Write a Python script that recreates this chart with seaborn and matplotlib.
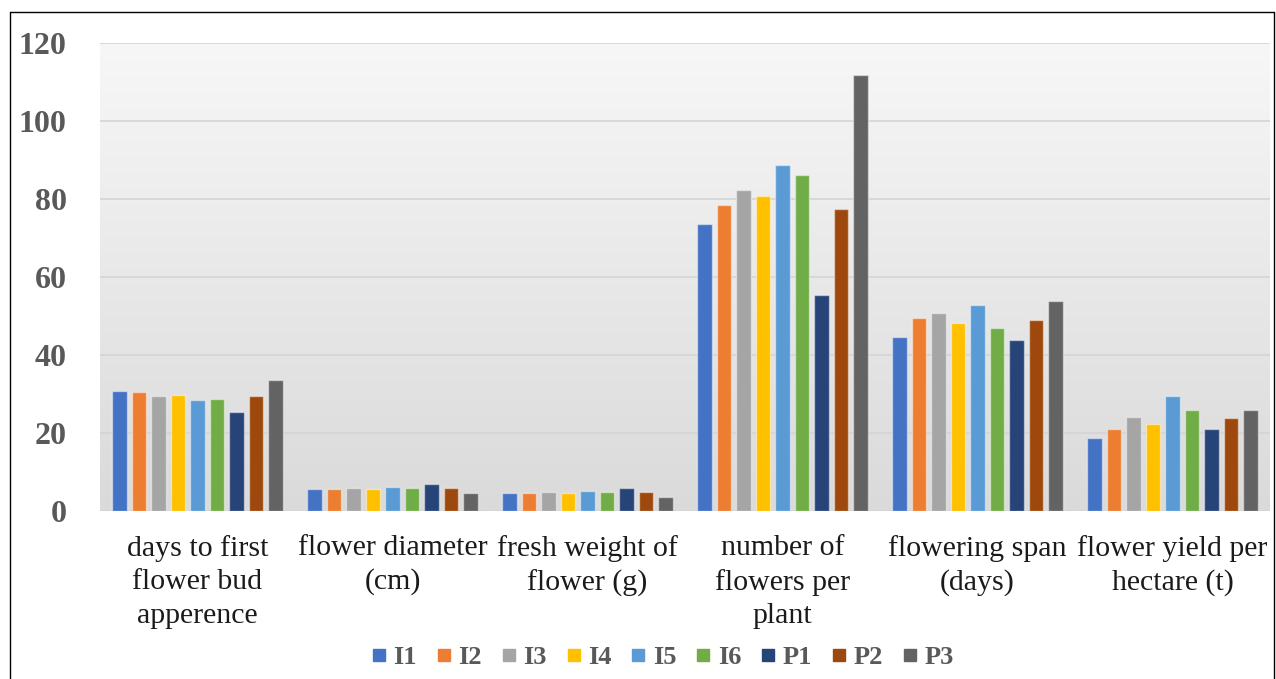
import numpy as np
import pandas as pd
import matplotlib
matplotlib.use("Agg")
import matplotlib.pyplot as plt
from matplotlib.colors import LinearSegmentedColormap
from matplotlib.lines import Line2D
import seaborn as sns

categories = ["days to first\nflower bud\napperence", "flower diameter\n(cm)",
              "fresh weight of\nflower (g)", "number of\nflowers per\nplant",
              "flowering span\n(days)", "flower yield per\nhectare (t)"]
series_names = ["I1", "I2", "I3", "I4", "I5", "I6", "P1", "P2", "P3"]

I1 = [30.8, 5.6, 4.6, 73.5, 44.7, 18.8]
I2 = [30.4, 5.6, 4.6, 78.4, 49.4, 21.1]
I3 = [29.5, 5.9, 4.9, 82.4, 50.7, 24.1]
I4 = [29.8, 5.6, 4.6, 80.8, 48.1, 22.4]
I5 = [28.5, 6.2, 5.2, 88.7, 52.7, 29.4]
I6 = [28.8, 5.9, 4.9, 86.1, 47.0, 25.8]
P1 = [25.5, 6.8, 5.8, 55.5, 43.8, 21.1]
P2 = [29.5, 5.9, 4.9, 77.4, 49.1, 23.8]
P3 = [33.5, 4.5, 3.5, 111.7, 53.8, 25.8]

colors = ["#4472C4", "#ED7D31", "#A5A5A5", "#FFC000", "#5B9BD5",
          "#70AD47", "#264478", "#9E480E", "#636363"]

series = [I1, I2, I3, I4, I5, I6, P1, P2, P3]
rows = []
for name, vals in zip(series_names, series):
    for c, v in zip(categories, vals):
        rows.append({"category": c, "series": name, "value": v})
df = pd.DataFrame(rows)

sns.set_theme(style="white")
plt.rcParams["font.family"] = ["Liberation Serif", "DejaVu Serif"]

fig = plt.figure(figsize=(12.76, 6.79), dpi=100)
ax = fig.add_axes([100/1276, 1-511/679, 1170/1276, 468/679])

sns.barplot(data=df, x="category", y="value", hue="series",
            order=categories, hue_order=series_names, palette=colors,
            saturation=1, width=0.9, gap=0.27, ax=ax, legend=False,
            edgecolor=(1, 1, 1, 0.45), linewidth=1.0, zorder=3)

ax.set_xlim(-0.5, len(categories) - 0.5)
ax.set_ylim(0, 120)

# gradient background
cmap = LinearSegmentedColormap.from_list("bg", ["#dadada", "#f7f7f7"])
grad = np.linspace(0, 1, 256).reshape(-1, 1)
ax.imshow(grad, extent=[-0.5, len(categories) - 0.5, 0, 120], origin="lower",
          aspect="auto", cmap=cmap, zorder=0)

ax.set_yticks(np.arange(0, 121, 20))
ax.yaxis.grid(True, color="#d4d4d4", linewidth=1.2, zorder=1)
ax.set_axisbelow(True)
for s in ax.spines.values():
    s.set_visible(False)
ax.tick_params(axis="y", length=0, pad=24, labelsize=23, labelcolor="#595959")
for lbl in ax.get_yticklabels():
    lbl.set_fontweight("bold")
ax.tick_params(axis="x", length=0, pad=17, labelsize=21.5, labelcolor="#1a1a1a")
for lbl in ax.get_xticklabels():
    lbl.set_linespacing(1.38)
ax.set_xlabel("")
ax.set_ylabel("")

handles = [Line2D([0], [0], marker="s", linestyle="none", markersize=9,
                  markerfacecolor=c, markeredgecolor=c) for c in colors]
leg = fig.legend(handles, series_names, loc="center", ncol=9,
                 bbox_to_anchor=(0.519, 1-657/679), frameon=False,
                 handlelength=0.6, handletextpad=0.25, columnspacing=0.72,
                 prop={"size": 19, "weight": "bold"})
for t in leg.get_texts():
    t.set_color("#595959")

# outer border
fig.add_artist(Line2D([10/1276, 10/1276], [0, 1-12/679], transform=fig.transFigure, color="black", linewidth=1))
fig.add_artist(Line2D([10/1276, 1274/1276], [1-12/679, 1-12/679], transform=fig.transFigure, color="black", linewidth=1))
fig.add_artist(Line2D([1274/1276, 1274/1276], [0, 1-12/679], transform=fig.transFigure, color="black", linewidth=1))

fig.savefig("out.png", dpi=100)
